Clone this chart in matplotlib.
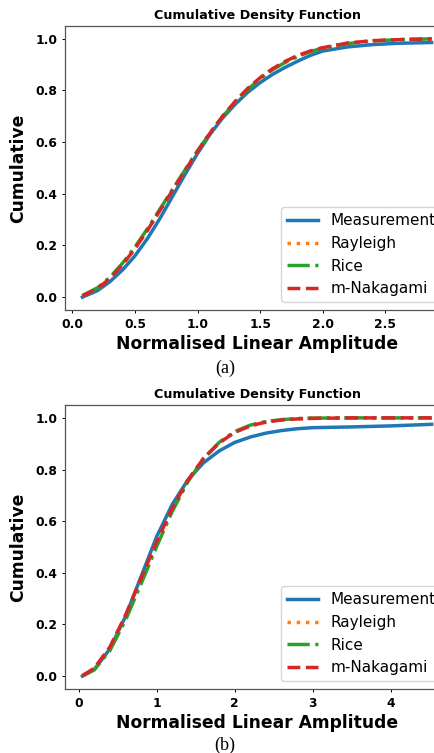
import matplotlib
matplotlib.use("Agg")
import matplotlib.pyplot as plt

# --------------------------------------------------------------
# Data (a) and (b)
# --------------------------------------------------------------

x_a = [0.08, 0.2, 0.3, 0.4, 0.5, 0.6, 0.7, 0.8, 0.9, 1.0, 1.1, 1.2,
       1.3, 1.4, 1.5, 1.6, 1.7, 1.8, 1.9, 2.0, 2.2, 2.4, 2.6, 2.87]
meas_a = [0.0, 0.025, 0.060, 0.105, 0.160, 0.227, 0.305, 0.390, 0.475,
          0.556, 0.630, 0.693, 0.746, 0.792, 0.830, 0.862, 0.889, 0.913,
          0.935, 0.952, 0.968, 0.977, 0.982, 0.985]
rayleigh_a = [0.005, 0.033, 0.072, 0.125, 0.188, 0.259, 0.336, 0.413, 0.490,
              0.565, 0.635, 0.699, 0.755, 0.805, 0.847, 0.882, 0.910, 0.933,
              0.951, 0.964, 0.982, 0.992, 0.996, 0.999]
rice_a = [0.006, 0.036, 0.077, 0.131, 0.194, 0.265, 0.341, 0.417, 0.492,
          0.566, 0.635, 0.698, 0.754, 0.803, 0.845, 0.880, 0.908, 0.931,
          0.950, 0.963, 0.981, 0.991, 0.996, 0.999]
nakagami_a = [0.005, 0.033, 0.072, 0.125, 0.188, 0.259, 0.336, 0.413, 0.490,
              0.565, 0.635, 0.700, 0.757, 0.807, 0.849, 0.884, 0.912, 0.935,
              0.952, 0.965, 0.983, 0.992, 0.996, 0.999]
xticks_a = [0.0, 0.5, 1.0, 1.5, 2.0, 2.5]

x_b = [0.05, 0.2, 0.4, 0.6, 0.8, 1.0, 1.2, 1.4, 1.6, 1.8, 2.0, 2.2,
       2.4, 2.6, 2.8, 3.0, 3.5, 4.0, 4.52]
meas_b = [0.0, 0.025, 0.105, 0.230, 0.385, 0.540, 0.665, 0.760, 0.826,
          0.872, 0.905, 0.926, 0.941, 0.951, 0.958, 0.962, 0.965, 0.969,
          0.975]
rayleigh_b = [0.002, 0.029, 0.109, 0.230, 0.372, 0.515, 0.647, 0.758, 0.843,
              0.904, 0.945, 0.970, 0.985, 0.993, 0.997, 0.999, 1.0, 1.0, 1.0]
rice_b = [0.001, 0.024, 0.098, 0.216, 0.357, 0.502, 0.638, 0.753, 0.842,
          0.905, 0.947, 0.972, 0.986, 0.993, 0.997, 0.999, 1.0, 1.0, 1.0]
nakagami_b = [0.002, 0.030, 0.112, 0.235, 0.378, 0.520, 0.650, 0.759, 0.843,
              0.903, 0.944, 0.969, 0.984, 0.992, 0.996, 0.998, 1.0, 1.0, 1.0]
xticks_b = [0, 1, 2, 3, 4]

panels = [
    (x_a, meas_a, rayleigh_a, rice_a, nakagami_a, xticks_a, "(a)"),
    (x_b, meas_b, rayleigh_b, rice_b, nakagami_b, xticks_b, "(b)"),
]

# --------------------------------------------------------------
# Plot
# --------------------------------------------------------------

fig = plt.figure(figsize=(4.35, 7.53), dpi=100)
axes_pos = [[0.1494, 0.5883, 0.883, 0.3772],
            [0.1494, 0.0850, 0.883, 0.3772]]
caption_y = [0.5113, 0.0097]

for pos, cy, (x, meas, ray, rice, nak, xt, cap) in zip(axes_pos, caption_y, panels):
    ax = fig.add_axes(pos)
    ax.plot(x, meas, color="C0", linestyle="-", linewidth=2.5, label="Measurement")
    ax.plot(x, ray, color="C1", linestyle=":", linewidth=2.5, label="Rayleigh")
    ax.plot(x, rice, color="C2", linestyle="-.", linewidth=2.5, label="Rice")
    ax.plot(x, nak, color="C3", linestyle="--", linewidth=2.5, label="m-Nakagami")

    ax.set_xticks(xt)
    ax.set_title("Cumulative Density Function", fontsize=9.2, fontweight="bold",
                 pad=5)
    ax.set_xlabel("Normalised Linear Amplitude", fontsize=12.3, fontweight="bold",
                  labelpad=3)
    ax.set_ylabel("Cumulative", fontsize=12.3, fontweight="bold", labelpad=6)
    for lbl in ax.get_xticklabels() + ax.get_yticklabels():
        lbl.set_fontweight("bold")
    ax.tick_params(labelsize=8.8, length=2.5, width=0.7, pad=3)
    for sp in ax.spines.values():
        sp.set_linewidth(0.9)
        sp.set_color("#555555")
    ax.legend(loc="lower right", fontsize=11)

    fig.text(0.517, cy, cap, ha="center", va="center",
             family="Liberation Serif", fontsize=13)

plt.savefig("out.png", dpi=100)
